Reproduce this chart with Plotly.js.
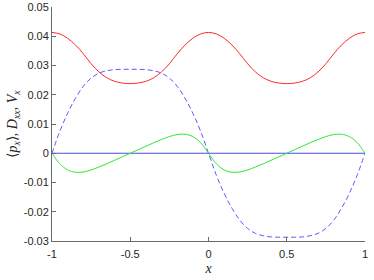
<!DOCTYPE html>
<html><head><meta charset="utf-8">
<script src="https://cdn.plot.ly/plotly-3.0.1.min.js"></script>
<style>html,body{margin:0;padding:0;background:#fff}#c{width:374px;height:280px}</style>
</head><body><div id="c"></div>
<script>
const xs = [-1,-0.95,-0.9,-0.85,-0.8,-0.75,-0.7,-0.65,-0.6,-0.55,-0.5,
 -0.45,-0.4,-0.35,-0.3,-0.25,-0.2,-0.15,-0.1,-0.05,0,
 0.05,0.1,0.15,0.2,0.25,0.3,0.35,0.4,0.45,0.5,
 0.55,0.6,0.65,0.7,0.75,0.8,0.85,0.9,0.95,1];
const dxx = [0.0413,0.0408,0.0393,0.0370,0.0340,0.0306,0.0278,0.0258,0.0246,0.0240,0.0238,
 0.0240,0.0246,0.0258,0.0278,0.0306,0.0340,0.0370,0.0393,0.0408,0.0413,
 0.0408,0.0393,0.0370,0.0340,0.0306,0.0278,0.0258,0.0246,0.0240,0.0238,
 0.0240,0.0246,0.0258,0.0278,0.0306,0.0340,0.0370,0.0393,0.0408,0.0413];
const px = [0,0.0075,0.0137,0.0188,0.0229,0.0257,0.0274,0.0282,0.0286,0.0287,0.0287,
 0.0287,0.0286,0.0282,0.0274,0.0257,0.0229,0.0188,0.0137,0.0075,0,
 -0.0075,-0.0137,-0.0188,-0.0229,-0.0257,-0.0274,-0.0282,-0.0286,-0.0287,-0.0287,
 -0.0287,-0.0286,-0.0282,-0.0274,-0.0257,-0.0229,-0.0188,-0.0137,-0.0075,0];
const vx = [0,-0.0036,-0.0057,-0.0065,-0.0064,-0.0057,-0.0047,-0.0036,-0.0024,-0.0012,0,
 0.0012,0.0024,0.0036,0.0047,0.0057,0.0064,0.0065,0.0057,0.0036,0,
 -0.0036,-0.0057,-0.0065,-0.0064,-0.0057,-0.0047,-0.0036,-0.0024,-0.0012,0,
 0.0012,0.0024,0.0036,0.0047,0.0057,0.0064,0.0065,0.0057,0.0036,0];
const zeroX = [-1,1];
const zeroY = [0,0];
const xTickVals = [-1,-0.5,0,0.5,1];
const xTickText = ['-1','-0.5','0','0.5','1'];
const yTickVals = [-0.03,-0.02,-0.01,0,0.01,0.02,0.03,0.04,0.05];
const yTickText = ['-0.03','-0.02','-0.01','0','0.01','0.02','0.03','0.04','0.05'];

const traces = [
 {x:zeroX,y:zeroY,mode:'lines',line:{color:'#4a4aee',width:1},hoverinfo:'skip'},
 {x:xs,y:dxx,mode:'lines',line:{color:'#ff2a2a',width:1,shape:'spline',smoothing:1}},
 {x:xs,y:px,mode:'lines',line:{color:'#5a5aff',width:1,dash:'5px,3px',shape:'spline',smoothing:1}},
 {x:xs,y:vx,mode:'lines',line:{color:'#2ee82e',width:1,shape:'spline',smoothing:1}}
];
const axCommon = {showgrid:false,zeroline:false,showline:true,linecolor:'#6a6a6a',linewidth:1,
 ticks:'inside',ticklen:4,tickcolor:'#6a6a6a',tickmode:'array',
 tickfont:{family:'Liberation Sans, Arial, sans-serif',size:11,color:'#262626'},mirror:false};
const titleFont = {family:'Liberation Serif, Times New Roman, serif',size:14,color:'#262626'};
const layout = {
 width:374,height:280,margin:{l:52,r:9,t:7,b:39},
 paper_bgcolor:'#fff',plot_bgcolor:'#fff',showlegend:false,
 xaxis:Object.assign({},axCommon,{range:[-1,1],tickvals:xTickVals,ticktext:xTickText,ticklabelstandoff:3,
   title:{text:'<i>x</i>',font:titleFont,standoff:3}}),
 yaxis:Object.assign({},axCommon,{range:[-0.03,0.05],tickvals:yTickVals,ticktext:yTickText,
   title:{text:'⟨<i>p<sub>x</sub></i>⟩, <i>D<sub>xx</sub></i>, <i>V<sub>x</sub></i>',font:titleFont,standoff:2}})
};
Plotly.newPlot('c',traces,layout,{displayModeBar:false,staticPlot:true});
</script>
</body></html>
